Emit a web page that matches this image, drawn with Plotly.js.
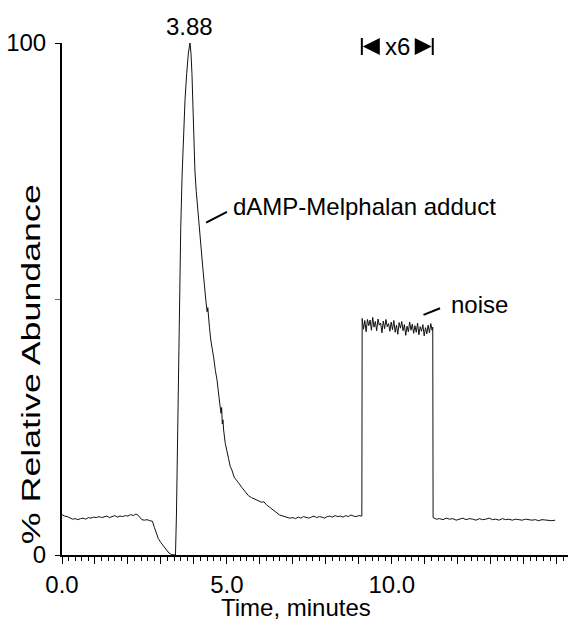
<!DOCTYPE html>
<html>
<head>
<meta charset="utf-8">
<script src="https://cdn.plot.ly/plotly-3.0.1.min.js"></script>
<style>html,body{margin:0;padding:0;background:#fff;}#chart{width:578px;height:620px;}</style>
</head>
<body>
<div id="chart"></div>
<script>
// ---- data ----
var preTime = [0.00,0.08,0.16,0.24,0.32,0.40,0.48,0.56,0.64,0.72,0.80,0.88,0.96,1.04,1.12,1.20,1.28,1.36,1.44,1.52,1.60,1.68,1.76,1.84,1.92,2.00,2.08,2.16,2.24,2.30,2.36,2.42,2.50,2.58,2.66,2.74,2.80,2.86,2.92,3.00,3.08,3.16,3.24,3.32,3.40,3.44];
var preAbund = [7.9,7.6,7.5,7.2,7.0,7.1,6.9,7.1,7.2,7.0,7.3,7.2,7.4,7.3,7.5,7.3,7.4,7.6,7.3,7.5,7.7,7.4,7.6,7.5,7.7,7.6,7.9,7.7,8.0,7.8,7.3,6.9,6.8,6.9,6.7,6.6,5.4,4.2,3.2,2.4,1.7,1.0,0.4,0.1,0.0,0.0];

var peakTime = [3.47,3.50,3.53,3.56,3.60,3.64,3.68,3.73,3.78,3.83,3.88,3.91,3.94,3.97,3.99,4.03,4.07,4.12,4.19,4.27,4.36,4.40,4.42,4.44,4.47,4.51,4.55,4.60,4.65,4.70,4.76,4.82,4.84,4.86,4.88,4.90,4.95,5.00,5.05,5.10,5.15,5.22,5.30,5.35,5.45,5.55,5.65,5.75,5.85,5.95,6.05,6.12,6.20,6.30,6.40,6.50,6.60,6.70,6.80,6.90];
var peakAbund = [8,22,36,50,64,74,82,89,94,98,100,98,94,86,81,75,71,67,63,56,49.8,47.5,48.3,45.8,44.5,42.0,40.6,38.5,36.0,34.2,30.8,27.7,28.8,25.6,26.4,24.4,21.8,19.9,18.8,17.3,16.6,15.2,14.6,14.1,13.2,12.3,11.6,11.2,10.9,10.6,10.3,10.4,9.8,9.3,8.8,8.2,7.8,7.6,7.4,7.2];

var baseTime = [7.00,7.08,7.16,7.24,7.32,7.40,7.48,7.56,7.64,7.72,7.80,7.88,7.96,8.04,8.12,8.20,8.28,8.36,8.44,8.52,8.60,8.68,8.76,8.84,8.92,9.00,9.08];
var baseAbund = [7.3,7.1,7.4,7.2,7.5,7.3,7.2,7.4,7.6,7.3,7.5,7.4,7.2,7.5,7.6,7.4,7.7,7.5,7.6,7.4,7.7,7.5,7.8,7.6,7.5,7.7,7.6];

// x6 magnified window
var noiseTime = [9.10,9.14,9.18,9.22,9.26,9.30,9.34,9.38,9.42,9.46,9.50,9.54,9.58,9.62,9.66,9.70,9.74,9.78,9.82,9.86,9.90,9.94,9.98,10.02,10.06,10.10,10.14,10.18,10.22,10.26,10.30,10.34,10.38,10.42,10.46,10.50,10.54,10.58,10.62,10.66,10.70,10.74,10.78,10.82,10.86,10.90,10.94,10.98,11.02,11.06,11.10,11.14,11.18,11.22,11.24];
var noiseAbund = [46.2,44.1,45.8,43.6,46.0,44.8,45.9,43.9,46.4,44.5,45.6,43.8,46.1,44.9,45.3,43.4,45.7,44.2,46.0,44.6,45.2,43.7,45.5,44.0,45.8,43.5,44.9,43.1,45.4,44.3,45.6,43.8,45.0,42.9,44.7,43.6,45.5,43.9,45.1,43.3,44.8,43.5,45.3,43.0,44.6,43.7,45.0,42.8,44.4,43.2,44.9,43.4,45.2,43.9,44.5];

var tailTime = [11.25,11.35,11.45,11.55,11.65,11.75,11.85,11.95,12.05,12.15,12.25,12.35,12.45,12.55,12.65,12.75,12.85,12.95,13.05,13.15,13.25,13.35,13.45,13.55,13.65,13.75,13.85,13.95,14.05,14.15,14.25,14.35,14.45,14.55,14.65,14.75,14.85,14.95];
var tailAbund = [7.3,7.0,7.1,6.9,7.2,7.0,7.1,6.8,7.0,7.2,6.9,7.1,7.0,6.8,7.1,6.9,7.0,7.2,6.9,7.0,6.8,7.1,6.9,7.0,6.8,7.0,6.9,6.8,7.0,6.9,6.8,6.9,6.7,6.9,6.8,6.8,6.7,6.8];

var xTickVals = [0,1,2,3,4,5,6,7,8,9,10,11,12,13,14,15];
var xTickText = ['0.0','','','','','5.0','','','','','10.0','','','','','15.0'];
var yTickVals = [0,100];
var yTickText = ['0','100'];

var peakLabel = '3.88';
var peakLabelTime = 3.88;
var compoundLabel = 'dAMP-Melphalan adduct';
var noiseLabel = 'noise';
var zoomLabel = 'x6';
var xTitle = 'Time, minutes';
var yTitle = '% Relative Abundance';

// ---- assemble ----
var t = [].concat(preTime, peakTime, baseTime, [9.09], noiseTime, tailTime);
var a = [].concat(preAbund, peakAbund, baseAbund, [7.6], noiseAbund, tailAbund);

var FONT = 'Liberation Sans, Arial, Helvetica, sans-serif';
var fs = 24;

var winStart = 9.09, winEnd = noiseTime[noiseTime.length - 1];

var trace = {
  x: t, y: a, type: 'scatter', mode: 'lines',
  line: {color: '#111', width: 1},
  hoverinfo: 'skip'
};

var layout = {
  width: 578, height: 620,
  margin: {l: 62, r: 10, t: 43, b: 65, pad: 0},
  paper_bgcolor: '#fff', plot_bgcolor: '#fff',
  showlegend: false,
  font: {family: FONT, size: fs, color: '#000'},
  xaxis: {
    range: [0, 15.34], showgrid: false, zeroline: false,
    showline: true, linecolor: '#000', linewidth: 2,
    tickmode: 'array', tickvals: xTickVals, ticktext: xTickText,
    ticks: 'outside', ticklen: 7, tickwidth: 1, tickcolor: '#000',
    minor: {dtick: 0.2, tick0: 0, ticks: 'outside', ticklen: 4, tickwidth: 1, tickcolor: '#000'},
    tickfont: {family: FONT, size: fs, color: '#000'}
  },
  yaxis: {
    range: [0, 100], showgrid: false, zeroline: false,
    showline: true, linecolor: '#000', linewidth: 2,
    tickmode: 'array', tickvals: yTickVals, ticktext: yTickText,
    ticks: 'outside', ticklen: 5, tickwidth: 1, tickcolor: '#000',
    minor: {tickvals: [50], ticks: 'outside', ticklen: 5, tickwidth: 1, tickcolor: '#666'},
    ticklabelstandoff: 4,
    tickfont: {family: FONT, size: fs, color: '#000'}
  },
  annotations: [
    {text: peakLabel, x: peakLabelTime, xref: 'x', y: 1, yref: 'paper', yanchor: 'middle', yshift: 17, showarrow: false, font: {family: FONT, size: fs}},
    {text: compoundLabel, x: 5.12, xref: 'x', y: 68.1, yref: 'y', xanchor: 'left', yanchor: 'middle', showarrow: false, font: {family: FONT, size: fs}},
    {text: noiseLabel, x: 11.74, xref: 'x', y: 48.9, yref: 'y', xanchor: 'left', yanchor: 'middle', showarrow: false, font: {family: FONT, size: fs}},
    {text: zoomLabel, x: (winStart + winEnd) / 2, xref: 'x', y: 1, yref: 'paper', yanchor: 'middle', yshift: -3, showarrow: false, font: {family: FONT, size: fs}},
    {text: xTitle, x: 0.4625, xref: 'paper', y: 0, yref: 'paper', yshift: -52, xanchor: 'center', yanchor: 'middle', showarrow: false, font: {family: FONT, size: fs}},
    {text: yTitle, textangle: -90, x: 0, xref: 'paper', xshift: -31, y: 0.373, yref: 'paper', xanchor: 'center', yanchor: 'middle', showarrow: false, font: {family: FONT, size: 26}}
  ],
  shapes: [
    {type: 'line', xref: 'x', yref: 'y', x0: 4.37, y0: 64.9, x1: 5.00, y1: 67.0, line: {color: '#000', width: 2}},
    {type: 'line', xref: 'x', yref: 'y', x0: 10.96, y0: 46.9, x1: 11.46, y1: 48.2, line: {color: '#000', width: 2}},
    {type: 'line', xref: 'x', yref: 'paper', ysizemode: 'pixel', yanchor: 1, x0: winStart, x1: winStart, y0: 5, y1: -12, line: {color: '#000', width: 2}},
    {type: 'line', xref: 'x', yref: 'paper', ysizemode: 'pixel', yanchor: 1, x0: winEnd, x1: winEnd, y0: 5, y1: -12, line: {color: '#000', width: 2}},
    {type: 'path', xref: 'x', yref: 'paper', xsizemode: 'pixel', xanchor: winStart, ysizemode: 'pixel', yanchor: 1, path: 'M 1,-3.5 L 18,5 L 18,-12 Z', fillcolor: '#000', line: {width: 0}},
    {type: 'path', xref: 'x', yref: 'paper', xsizemode: 'pixel', xanchor: winEnd, ysizemode: 'pixel', yanchor: 1, path: 'M -1,-3.5 L -18,5 L -18,-12 Z', fillcolor: '#000', line: {width: 0}}
  ]
};

Plotly.newPlot('chart', [trace], layout, {displayModeBar: false, staticPlot: true}).then(function (gd) {
  // the reference's axis title is drawn elongated along its baseline
  var texts = gd.querySelectorAll('.annotation-text');
  texts.forEach(function (el) {
    if (el.textContent === yTitle) {
      el.setAttribute('textLength', '360');
      el.setAttribute('lengthAdjust', 'spacingAndGlyphs');
    }
  });
});
</script>
</body>
</html>
